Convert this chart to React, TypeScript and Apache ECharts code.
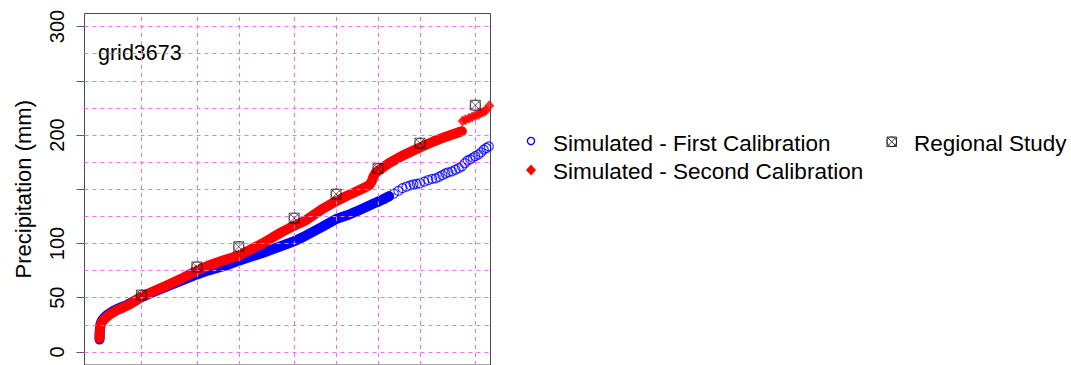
import { useEffect, useRef } from "react";
import * as echarts from "echarts";

const FONT = "'Liberation Sans', Arial, Helvetica, sans-serif";

// Return period (years) of each ranked value and its precipitation depth (mm)
const firstCalT = [1.0, 1.002, 1.005, 1.01, 1.02, 1.04, 1.07, 1.12, 1.19, 1.26, 1.33, 1.45, 1.58, 1.75, 2.0, 2.4, 3.0, 3.5, 4.0, 5.0, 6.0, 7.0, 8.0, 9.0, 10, 12, 15, 20, 25, 30, 40, 50, 60, 70, 80, 90, 100, 110, 120];
const firstCalP = [11.5, 15, 19.5, 23, 26.5, 29, 31, 33.5, 36, 38, 39.5, 41.5, 43.5, 46.5, 50.5, 55, 60, 63.5, 66.5, 71.5, 75, 77.5, 79.5, 82, 84, 87.5, 91.5, 97.5, 102, 107, 115.5, 122.5, 126, 129.5, 133, 136, 138.5, 141, 143.5];

const firstCalTailT = [100, 110, 120, 130, 140, 150, 160, 170, 180, 190, 200, 215, 230, 245, 260, 275, 290, 305, 320, 340, 360, 380, 400, 420, 440, 460, 480, 500, 525, 550, 575, 600, 625];
const firstCalTailP = [138.5, 141, 143.5, 146, 148.5, 151, 152.5, 153.5, 154.5, 155, 155.5, 157, 158.5, 159.5, 160, 161.5, 163, 164.5, 165.5, 166.5, 168, 169.5, 171, 174, 176.5, 177.5, 179, 180.5, 182, 184, 186.5, 188, 189.5];

const secondCalT = [1.0, 1.002, 1.005, 1.01, 1.02, 1.04, 1.07, 1.12, 1.19, 1.26, 1.33, 1.45, 1.58, 1.75, 2.0, 2.4, 3.0, 3.5, 4.0, 5.0, 6.0, 7.0, 8.0, 9.0, 10, 12, 15, 20, 25, 30, 40, 50, 60, 70, 80, 87, 90, 93, 96, 100, 120, 150, 175, 200, 250, 300, 350, 400];
const secondCalP = [12.5, 16, 20, 23, 25.5, 27.5, 29.5, 32, 34.8, 36.8, 38.5, 40.5, 42.8, 46, 51, 55.5, 61, 65, 68.5, 75, 79.5, 82.5, 85, 87, 89, 94, 100.5, 110, 116.5, 121, 132, 139, 144, 148, 151.5, 154, 157, 162, 165, 167, 174, 181, 185, 188.5, 194, 198, 201, 203.5];

const secondCalTailT = [100, 110, 120, 135, 150, 165, 175, 190, 200, 225, 250, 275, 300, 325, 350, 375, 400, 405, 425, 450, 475, 500, 525, 550, 575, 595, 630];
const secondCalTailP = [167, 170.5, 174, 177.5, 181, 183.5, 185, 187, 188.5, 191.5, 194, 196, 198, 199.5, 201, 202.5, 203.5, 213, 214, 215.5, 216.5, 218, 219, 220.5, 221.5, 222.5, 227];

const regionalT = [2, 5, 10, 25, 50, 100, 200, 500];
const regionalP = [52.5, 78.4, 97, 123.4, 145.5, 169, 192.5, 227.5];

// Axis ticks, labels and grid lines
const yTickValues = [0, 50, 100, 150, 200, 250, 300];
const yLabelValues = [0, 50, 100, 200, 300];
const hGridValues = [0, 25, 50, 75, 100, 125, 150, 175, 200, 225, 250, 275, 300];
const vGridValues = [2, 5, 10, 25, 50, 100, 200, 500];

const stationName = "grid3673";
const yAxisTitle = "Precipitation (mm)";
const legendNames = [
  "Simulated - First Calibration",
  "Simulated - Second Calibration",
  "Regional Study",
];

const pairs = (xs: number[], ys: number[]) => xs.map((x, i) => [x, ys[i]]);

const BLUE = "#0000FF";
const RED = "#FF0000";
const GRID_PINK = "#EE72EE";

const REGIONAL_SYMBOL =
  "path://M0,0H10V10H0Z M0,0L10,10 M10,0L0,10 M0,5A5,5 0 1 1 10,5A5,5 0 1 1 0,5Z";

export default function App() {
  const ref = useRef<HTMLDivElement>(null);

  useEffect(() => {
    if (!ref.current) return;
    const chart = echarts.init(ref.current, undefined, { renderer: "svg" });

    const legendText = (x: number, y: number, text: string) => ({
      type: "text",
      x,
      y,
      style: {
        text,
        fontSize: 22.5,
        fontFamily: FONT,
        fill: "#000",
        align: "left",
        verticalAlign: "middle",
      },
    });

    chart.setOption({
      animation: false,
      backgroundColor: "#fff",
      grid: {
        left: 84.5,
        top: 13.5,
        width: 406,
        height: 354.8,
        show: true,
        borderColor: "#4a4a4a",
        borderWidth: 1,
      },
      xAxis: {
        type: "log",
        logBase: 10,
        min: 0.78,
        max: 642.7,
        show: false,
      },
      yAxis: {
        type: "value",
        min: -12,
        max: 312,
        name: yAxisTitle,
        nameLocation: "middle",
        nameRotate: 90,
        nameGap: 50,
        nameTextStyle: { fontSize: 22, fontFamily: FONT, color: "#000" },
        axisLine: { show: false },
        axisTick: {
          show: true,
          customValues: yTickValues,
          length: 8,
          lineStyle: { color: "#5a5a5a", width: 1 },
        },
        axisLabel: {
          customValues: yLabelValues,
          rotate: 90,
          margin: 18,
          fontSize: 20,
          fontFamily: FONT,
          color: "#000",
        },
        splitLine: { show: false },
      },
      series: [
        {
          type: "line",
          name: "grid lines",
          data: [],
          z: 1,
          silent: true,
          markLine: {
            silent: true,
            symbol: ["none", "none"],
            label: { show: false },
            lineStyle: { color: GRID_PINK, type: [4, 4], width: 1 },
            data: [
              ...vGridValues.map((v) => ({ xAxis: v })),
              ...hGridValues.map((v) => ({ yAxis: v })),
            ],
          },
        },
        {
          type: "line",
          name: legendNames[0],
          data: pairs(firstCalT, firstCalP),
          symbol: "none",
          z: 2,
          lineStyle: { color: BLUE, width: 10, cap: "round", join: "round" },
        },
        {
          type: "scatter",
          name: legendNames[0],
          data: pairs(firstCalTailT, firstCalTailP),
          symbol: "circle",
          symbolSize: 9,
          z: 3,
          itemStyle: { color: "transparent", borderColor: BLUE, borderWidth: 1.2 },
        },
        {
          type: "line",
          name: legendNames[1],
          data: pairs(secondCalT, secondCalP),
          symbol: "none",
          z: 4,
          lineStyle: { color: RED, width: 10, cap: "round", join: "round" },
        },
        {
          type: "scatter",
          name: legendNames[1],
          data: pairs(secondCalTailT, secondCalTailP),
          symbol: "diamond",
          symbolSize: [10, 11],
          z: 5,
          itemStyle: { color: RED },
        },
        {
          type: "scatter",
          name: legendNames[2],
          data: pairs(regionalT, regionalP),
          symbol: REGIONAL_SYMBOL,
          symbolSize: 10,
          z: 6,
          itemStyle: { color: "transparent", borderColor: "#111", borderWidth: 0.8 },
        },
      ],
      graphic: [
        {
          type: "text",
          x: 98,
          y: 53,
          style: {
            text: stationName,
            fontSize: 21.5,
            fontFamily: FONT,
            fill: "#000",
            align: "left",
            verticalAlign: "middle",
          },
        },
        // legend: first calibration (open circle)
        {
          type: "circle",
          shape: { cx: 531, cy: 141, r: 3.6 },
          style: { fill: "none", stroke: BLUE, lineWidth: 1.3 },
        },
        legendText(553, 143.5, legendNames[0]),
        // legend: second calibration (filled diamond)
        {
          type: "polygon",
          shape: { points: [[531, 164.5], [536, 170], [531, 175.5], [526, 170]] },
          style: { fill: RED },
        },
        legendText(553, 171.5, legendNames[1]),
        // legend: regional study (boxed cross with circle)
        {
          type: "group",
          x: 887,
          y: 137,
          children: [
            { type: "rect", shape: { x: 0, y: 0, width: 9.5, height: 9.5 }, style: { fill: "none", stroke: "#111", lineWidth: 0.8 } },
            { type: "line", shape: { x1: 0, y1: 0, x2: 9.5, y2: 9.5 }, style: { stroke: "#111", lineWidth: 0.8 } },
            { type: "line", shape: { x1: 9.5, y1: 0, x2: 0, y2: 9.5 }, style: { stroke: "#111", lineWidth: 0.8 } },
            { type: "circle", shape: { cx: 4.75, cy: 4.75, r: 4.75 }, style: { fill: "none", stroke: "#111", lineWidth: 0.8 } },
          ],
        },
        legendText(914, 143.5, legendNames[2]),
      ],
    });

    return () => chart.dispose();
  }, []);

  return (
    <div
      ref={ref}
      style={{ position: "absolute", left: 0, top: 0, width: 1071, height: 365, background: "#fff" }}
    />
  );
}
